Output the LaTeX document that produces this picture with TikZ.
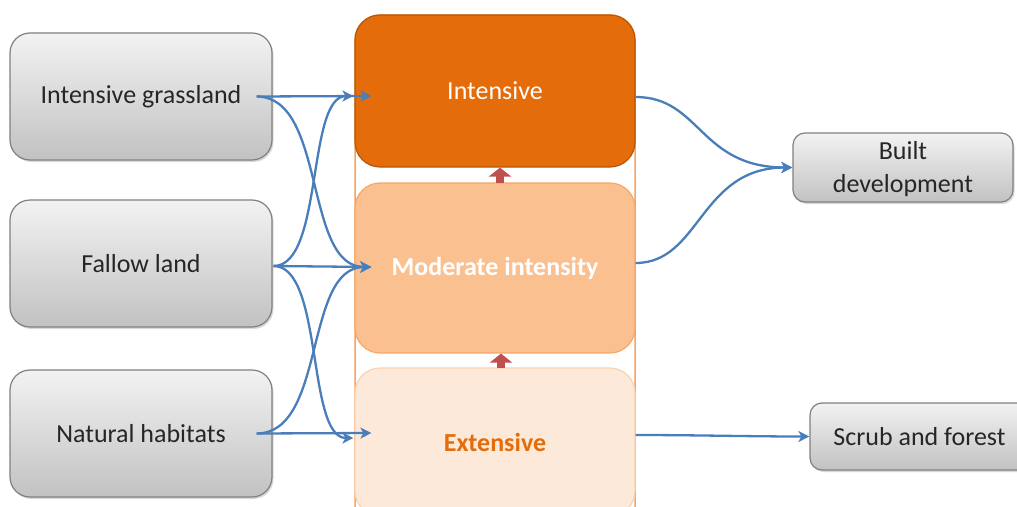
\documentclass[tikz,border=0pt]{standalone}
\usepackage{fontspec}
\setmainfont{Carlito}
\usetikzlibrary{arrows.meta,shadows,calc}
\definecolor{blueline}{HTML}{4A7EBB}
\definecolor{darkorange}{HTML}{E46C0A}
\definecolor{darkorangeedge}{HTML}{B65708}
\definecolor{midorange}{HTML}{FAC090}
\definecolor{midorangeedge}{HTML}{F5A868}
\definecolor{lightorange}{HTML}{FDE9D9}
\definecolor{lightorangeedge}{HTML}{FBD2B0}
\definecolor{frameorange}{HTML}{F7A25E}
\definecolor{redarrow}{HTML}{C0504D}
\definecolor{redarrowedge}{HTML}{943634}
\definecolor{textgray}{HTML}{262626}
\begin{document}
\begin{tikzpicture}[x=1pt,y=-1pt,
  bigfont/.style={font=\fontsize{26}{33}\selectfont},
  graybox/.style={draw=black!50, line width=1.2pt, rounded corners=20pt,
    top color=black!5, bottom color=black!24, text=textgray, bigfont,
    minimum width=262pt, minimum height=127pt, inner sep=0pt,
    drop shadow={shadow xshift=1.5pt, shadow yshift=-2pt, opacity=0.3}},
  smallgray/.style={graybox, rounded corners=12pt, minimum height=68pt, align=center},
  levelbox/.style={rounded corners=25pt, line width=1.2pt, minimum width=280pt,
    inner sep=0pt, bigfont},
  conn/.style={draw=blueline, line width=2.3pt, -{Stealth[length=11pt,width=11pt,inset=3pt]}},
  uparrow/.style={draw=redarrow, line width=8pt, -{Triangle[length=9pt,width=22pt]}}
]
\useasboundingbox (0,0) rectangle (1017,506);
% frame behind the levels
\draw[frameorange, line width=1.5pt, rounded corners=25pt] (355,15) rectangle (635,540);
% levels
\node[levelbox, fill=darkorange, draw=darkorangeedge, text=white, minimum height=152pt] (I) at (495,91) {Intensive};
\node[levelbox, fill=midorange, draw=midorangeedge, text=white, minimum height=170pt, font=\fontsize{26}{33}\selectfont\bfseries] (M) at (495,268) {Moderate intensity};
\node[levelbox, fill=lightorange, draw=lightorangeedge, text=darkorange, minimum height=148pt, font=\fontsize{26}{33}\selectfont\bfseries] (E) at (495,442) {Extensive};
% up arrows between levels
\draw[uparrow] ($(M.north)+(5,1)$) -- ($(I.south)+(5,0)$);
\draw[uparrow] ($(E.north)+(6,1)$) -- ($(M.south)+(6,0)$);
% left boxes
\node[graybox] (g) at (141,96.5) {Intensive grassland};
\node[graybox] (f) at (141,263.5) {Fallow land};
\node[graybox] (n) at (141,433.5) {Natural habitats};
% right boxes
\node[smallgray, minimum width=220pt, minimum height=69pt, text depth=2pt] (B) at (903,167.5) {Built\\development};
\node[smallgray, minimum width=219pt, minimum height=67pt] (S) at (919.5,436.5) {Scrub and forest};
% left connectors
\draw[conn] ($(g.east)+(-16,0)$) -- ($(I.west)+(17,5)$);
\draw[conn] ($(g.east)+(-16,0)$) .. controls +(70,0) and +(-68,0) .. ($(M.west)+(17,-1)$);
\draw[conn] ($(f.east)+(1,2.5)$) .. controls +(50,0) and +(-47,0) .. ($(I.west)+(-1,5)$);
\draw[conn] ($(f.east)+(1,2.5)$) -- ($(M.west)+(17,-1)$);
\draw[conn] ($(f.east)+(1,2.5)$) .. controls +(50,0) and +(-47,0) .. ($(E.west)+(-1,-4)$);
\draw[conn] ($(n.east)+(-16,0)$) .. controls +(70,0) and +(-68,0) .. ($(M.west)+(17,-1)$);
\draw[conn] ($(n.east)+(-16,0)$) -- ($(E.west)+(17,-9)$);
% right connectors
\draw[conn] ($(I.east)+(0,6)$) .. controls +(65,0) and +(-93,0) .. (B.west);
\draw[conn] ($(M.east)+(0,-5)$) .. controls +(65,0) and +(-93,0) .. (B.west);
\draw[conn] ($(E.east)+(0,-7)$) .. controls +(60,0) and +(-60,0) .. (S.west);
\end{tikzpicture}
\end{document}
